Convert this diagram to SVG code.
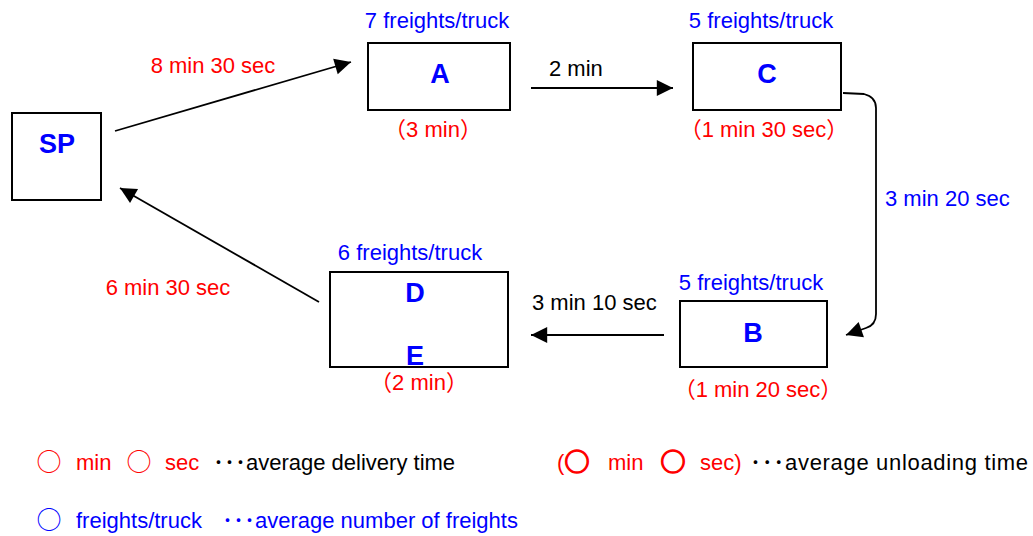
<svg xmlns="http://www.w3.org/2000/svg" width="1033" height="536" viewBox="0 0 1033 536">
<style>
text{font-family:"Liberation Sans","Noto Sans CJK JP",sans-serif;font-size:22px}
.box{fill:#fff;stroke:#000;stroke-width:2}
.nl{font-size:27px;font-weight:bold;fill:#0000ff;text-anchor:middle}
.b{fill:#0000ff}
.r{fill:#ff0000}
.k{fill:#000}
.m{text-anchor:middle}
.o{font-family:"Noto Sans CJK JP",sans-serif;font-size:25px;text-anchor:middle}
.ob{stroke:#ff0000;stroke-width:1.6}
.ln{fill:none;stroke:#000;stroke-width:1.8}
</style>
<defs>
<marker id="ah" viewBox="0 0 10 10" refX="10" refY="5" markerWidth="9" markerHeight="9" markerUnits="userSpaceOnUse" orient="auto" style="overflow:visible">
<path d="M0,0 L10,5 L0,10 z" fill="#000" transform="scale(1.8)" transform-origin="10 5"/>
</marker>
</defs>
<g id="connectors">
<line class="ln" x1="115" y1="131" x2="351" y2="62" marker-end="url(#ah)"/>
<line class="ln" x1="531" y1="88" x2="673" y2="88" marker-end="url(#ah)"/>
<path class="ln" d="M843,93 L864,94 Q876,97 876,108 L876,314 Q876,325 866,328 L846,335" marker-end="url(#ah)"/>
<line class="ln" x1="664" y1="335" x2="531" y2="335" marker-end="url(#ah)"/>
<line class="ln" x1="319" y1="302" x2="120" y2="188" marker-end="url(#ah)"/>
</g>
<g id="SP">
<rect class="box" x="12" y="113" width="89" height="87"/>
<text class="nl" x="57" y="153">SP</text>
</g>
<g id="A">
<rect class="box" x="368" y="43" width="142" height="67"/>
<text class="nl" x="440" y="83">A</text>
<text class="b m" x="437" y="28">7 freights/truck</text>
<text class="r m" x="433" y="137">（3 min）</text>
</g>
<g id="C">
<rect class="box" x="693" y="43" width="148" height="67"/>
<text class="nl" x="767" y="83">C</text>
<text class="b m" x="761" y="28">5 freights/truck</text>
<text class="r m" x="764" y="137">（1 min 30 sec）</text>
</g>
<g id="B">
<rect class="box" x="680" y="301" width="147" height="66"/>
<text class="nl" x="753" y="342">B</text>
<text class="b m" x="751" y="290">5 freights/truck</text>
<text class="r m" x="758" y="397">（1 min 20 sec）</text>
</g>
<g id="DE">
<rect class="box" x="330" y="272" width="178" height="95"/>
<text class="nl" x="415" y="302">D</text>
<text class="nl" x="415" y="365">E</text>
<text class="b m" x="410" y="260">6 freights/truck</text>
<text class="r m" x="419" y="390">（2 min）</text>
</g>
<g id="edge-labels">
<text class="r m" x="213" y="73">8 min 30 sec</text>
<text class="k" x="549" y="76">2 min</text>
<text class="b" x="885" y="206">3 min 20 sec</text>
<text class="k" x="532" y="310">3 min 10 sec</text>
<text class="r m" x="168" y="295">6 min 30 sec</text>
</g>
<g id="legend">
<text class="r o" x="49" y="471">○</text>
<text class="r" x="76" y="470">min</text>
<text class="r o" x="139" y="471">○</text>
<text class="r" x="165" y="470">sec</text>
<text class="k" x="213" y="470">･･･average delivery time</text>
<text class="b o" x="49" y="529">○</text>
<text class="b" x="76" y="528">freights/truck</text>
<text class="b" x="222" y="528">･･･average number of freights</text>
<text class="r" x="557" y="470">(</text>
<text class="r o ob" x="577" y="471">○</text>
<text class="r" x="608" y="470">min</text>
<text class="r o ob" x="673" y="471">○</text>
<text class="r" x="700" y="470">sec)</text>
<text class="k" x="750" y="470" textLength="278" lengthAdjust="spacing">･･･average unloading time</text>
</g>
</svg>
